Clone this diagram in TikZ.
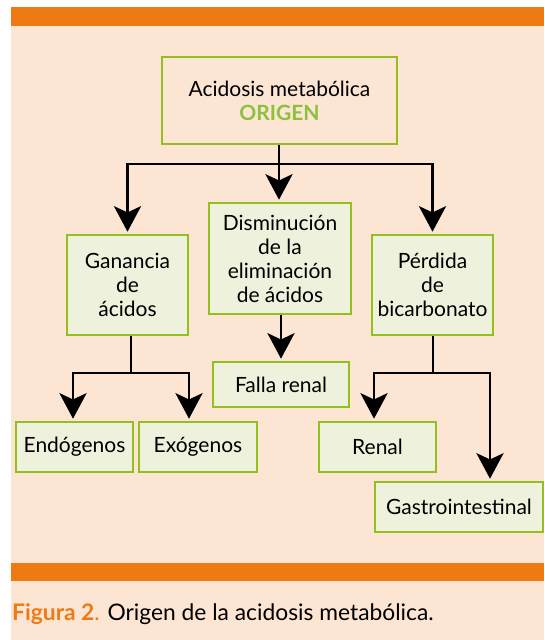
\documentclass[tikz,border=0pt]{standalone}
\usepackage{fontspec}
\setmainfont{Lato}
\usepackage{xcolor}
\usetikzlibrary{arrows.meta}

\definecolor{BarOrange}{HTML}{EF7A14}
\definecolor{Peach}{HTML}{FDE5D3}
\definecolor{LeafGreen}{HTML}{93C01F}
\definecolor{PaleGreen}{HTML}{EEF2DC}
\definecolor{TitleGreen}{HTML}{8DC03F}

\begin{document}
\begin{tikzpicture}[x=1pt, y=-1pt,
	box/.style={draw=LeafGreen, line width=2.6pt, fill=PaleGreen, inner sep=0pt, align=center, font=\fontsize{21}{24}\selectfont},
	arr/.style={line width=2.4pt, -{Stealth[length=16pt, width=17pt, inset=4pt, scale=1.6]}, shorten >=2pt},
	link/.style={line width=2.4pt}]
	\useasboundingbox (0,0) rectangle (544,640);
	\fill[white] (0,0) rectangle (544,640);
	\fill[Peach] (11,7) rectangle (544,640);
	\fill[BarOrange] (11,7) rectangle (544,26);
	\fill[BarOrange] (11,563) rectangle (544,581);

	\node[box, fill=Peach, minimum width=235pt, minimum height=87pt] (top) at (279.5,100.5) {Acidosis metabólica\\\textcolor{TitleGreen}{\bfseries ORIGEN}};

	\node[box, minimum width=121pt, minimum height=100pt] (gan) at (127.5,285) {Ganancia\\de\\ácidos};
	\node[box, minimum width=142pt, minimum height=111pt] (dis) at (280,258.5) {Disminución\\de la\\eliminación\\de ácidos};
	\node[box, minimum width=121pt, minimum height=100pt] (per) at (432.5,285) {Pérdida\\de\\bicarbonato};

	\node[box, minimum width=136pt, minimum height=45pt] (falla) at (281,384.5) {Falla renal};

	\node[box, minimum width=117pt, minimum height=50pt] (endo) at (74.5,447) {Endógenos};
	\node[box, minimum width=118pt, minimum height=50pt] (exo) at (198,447) {Exógenos};
	\node[box, minimum width=117pt, minimum height=50pt] (renal) at (377.5,447) {Renal};
	\node[box, minimum width=168pt, minimum height=50pt] (gastro) at (459,507) {Gastrointestinal};

	% ramas
	\coordinate (tsplit) at (279,164);
	\coordinate (gsplit) at (131,373);
	\coordinate (psplit) at (433,373);

	\draw[arr] (top.south -| tsplit) -- (dis.north -| tsplit);
	\draw[arr] (tsplit) -| (gan.north);
	\draw[arr] (tsplit) -| (per.north);

	\draw[arr] (dis.south -| falla.north) -- (falla.north);

	\draw[link] (gan.south -| gsplit) -- (gsplit);
	\draw[arr] (gsplit) -| ([xshift=-1.5pt]endo.north);
	\draw[arr] (gsplit) -| ([xshift=-9pt]exo.north);

	\draw[link] (per.south -| psplit) -- (psplit);
	\draw[arr] (psplit) -| ([xshift=-3.5pt]renal.north);
	\draw[arr] (psplit) -| ([xshift=31pt]gastro.north);

	\node[anchor=base west, inner sep=0pt, font=\fontsize{22.8}{26}\selectfont] (caption) at (12,620) {\textcolor{BarOrange}{\bfseries Figura 2}\textcolor{BarOrange}{.} Origen de la acidosis metabólica.};
\end{tikzpicture}
\end{document}
